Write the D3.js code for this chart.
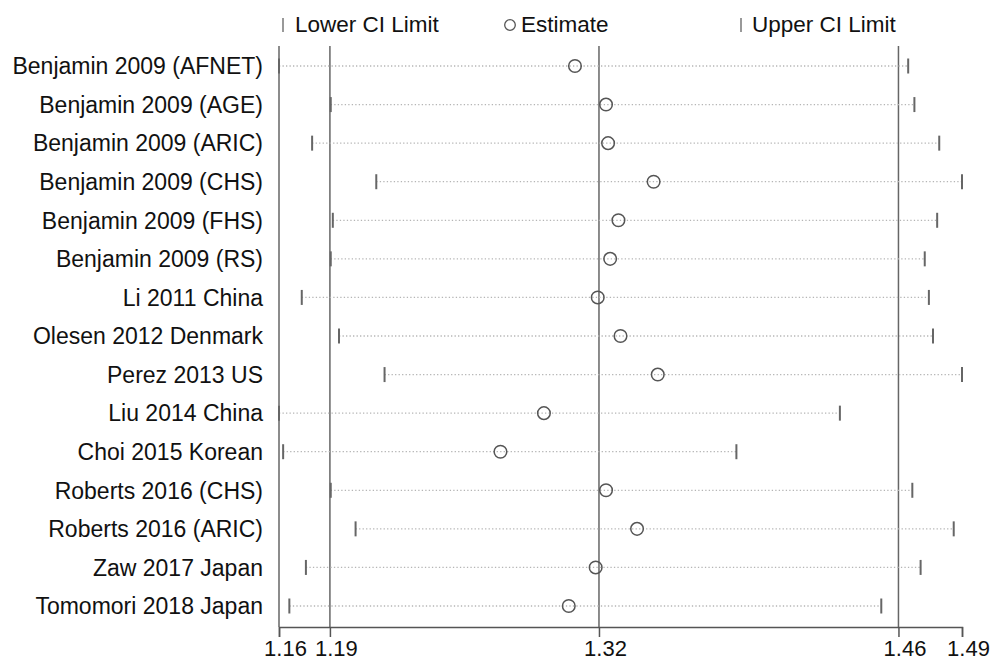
<!DOCTYPE html>
<html>
<head>
<meta charset="utf-8">
<script src="https://cdn.jsdelivr.net/npm/d3@7"></script>
<style>
    body { margin: 0; background: #fff; }
    svg { display: block; font-family: "Liberation Sans", Arial, Helvetica, sans-serif; }
</style>
</head>
<body>
<svg width="993" height="664"></svg>
<script>
// data
const studies = [
    "Benjamin 2009 (AFNET)", "Benjamin 2009 (AGE)", "Benjamin 2009 (ARIC)",
    "Benjamin 2009 (CHS)", "Benjamin 2009 (FHS)", "Benjamin 2009 (RS)",
    "Li 2011 China", "Olesen 2012 Denmark", "Perez 2013 US", "Liu 2014 China",
    "Choi 2015 Korean", "Roberts 2016 (CHS)", "Roberts 2016 (ARIC)",
    "Zaw 2017 Japan", "Tomomori 2018 Japan"
];
const lowerCI = [1.160, 1.185, 1.176, 1.207, 1.186, 1.185, 1.171, 1.189, 1.211, 1.160, 1.162, 1.185, 1.197, 1.173, 1.165];
const estimates = [1.303, 1.318, 1.319, 1.341, 1.324, 1.320, 1.314, 1.325, 1.343, 1.288, 1.267, 1.318, 1.333, 1.313, 1.300];
const upperCI = [1.464, 1.467, 1.479, 1.490, 1.478, 1.472, 1.474, 1.476, 1.490, 1.431, 1.381, 1.466, 1.486, 1.470, 1.451];

// overall lower limit, estimate, upper limit
const refLines = [1.1846, 1.3146, 1.4593];
const tickValues = [1.16, 1.1846, 1.3146, 1.4593, 1.49];
const tickLabels = ["1.16", "1.19", "1.32", "1.46", "1.49"];
const legendItems = ["Lower CI Limit", "Estimate", "Upper CI Limit"];

const svg = d3.select("svg");
const plotTop = 46, axisY = 627;

const x = d3.scaleLinear().domain([1.16, 1.49]).range([279, 962]);
const y = d3.scalePoint().domain(studies).range([66, 606]);

const rows = studies.map((s, i) => ({ name: s, lo: lowerCI[i], est: estimates[i], hi: upperCI[i] }));

// y axis line + reference lines
svg.append("line")
    .attr("x1", x(1.16)).attr("x2", x(1.16))
    .attr("y1", plotTop).attr("y2", axisY)
    .attr("stroke", "#666").attr("stroke-width", 1.5);

svg.selectAll("line.ref")
    .data(refLines)
    .enter()
    .append("line")
    .attr("class", "ref")
    .attr("x1", d => x(d)).attr("x2", d => x(d))
    .attr("y1", plotTop).attr("y2", axisY)
    .attr("stroke", "#666").attr("stroke-width", 1.5);

// dotted CI lines
svg.selectAll("line.ci")
    .data(rows)
    .enter()
    .append("line")
    .attr("class", "ci")
    .attr("x1", d => x(d.lo)).attr("x2", d => x(d.hi))
    .attr("y1", d => y(d.name)).attr("y2", d => y(d.name))
    .attr("stroke", "#b5b5b5").attr("stroke-width", 1.3)
    .attr("stroke-dasharray", "1.3,2.2");

// lower / upper limit ticks
["lo", "hi"].forEach(k => {
    svg.selectAll("line.cap-" + k)
        .data(rows)
        .enter()
        .append("line")
        .attr("class", "cap-" + k)
        .attr("x1", d => x(d[k])).attr("x2", d => x(d[k]))
        .attr("y1", d => y(d.name) - 7.5).attr("y2", d => y(d.name) + 7.5)
        .attr("stroke", "#666").attr("stroke-width", 2);
});

// estimates
svg.selectAll("circle.est")
    .data(rows)
    .enter()
    .append("circle")
    .attr("class", "est")
    .attr("cx", d => x(d.est))
    .attr("cy", d => y(d.name))
    .attr("r", 6.3)
    .attr("fill", "none")
    .attr("stroke", "#555").attr("stroke-width", 1.5);

// study labels
svg.selectAll("text.study")
    .data(studies)
    .enter()
    .append("text")
    .attr("class", "study")
    .attr("x", 263)
    .attr("y", d => y(d))
    .attr("dy", "0.36em")
    .attr("text-anchor", "end")
    .attr("font-size", 23)
    .attr("fill", "#111")
    .text(d => d);

// x axis
const xAxis = d3.axisBottom(x)
    .tickValues(tickValues)
    .tickFormat((d, i) => tickLabels[i])
    .tickSize(10)
    .tickSizeOuter(10)
    .tickPadding(3);

const gx = svg.append("g")
    .attr("transform", "translate(0," + axisY + ")")
    .call(xAxis);
gx.select(".domain").attr("stroke", "#555").attr("stroke-width", 1.5);
gx.selectAll(".tick line").attr("stroke", "#555").attr("stroke-width", 1.5);
gx.selectAll(".tick text")
    .attr("font-size", 22)
    .attr("font-family", "'Liberation Sans', Arial, sans-serif")
    .attr("fill", "#111")
    .attr("dx", 6);

// legend
const legY = 25;
svg.append("line")
    .attr("x1", 283).attr("x2", 283)
    .attr("y1", legY - 7).attr("y2", legY + 7)
    .attr("stroke", "#777").attr("stroke-width", 1.5);
svg.append("circle")
    .attr("cx", 510).attr("cy", legY).attr("r", 5.3)
    .attr("fill", "none").attr("stroke", "#555").attr("stroke-width", 1.3);
svg.append("line")
    .attr("x1", 741).attr("x2", 741)
    .attr("y1", legY - 7).attr("y2", legY + 7)
    .attr("stroke", "#777").attr("stroke-width", 1.5);

svg.selectAll("text.legend")
    .data(legendItems)
    .enter()
    .append("text")
    .attr("class", "legend")
    .attr("x", (d, i) => [295, 521, 752][i])
    .attr("y", 32)
    .attr("font-size", 22.5)
    .attr("fill", "#111")
    .text(d => d);
</script>
</body>
</html>
